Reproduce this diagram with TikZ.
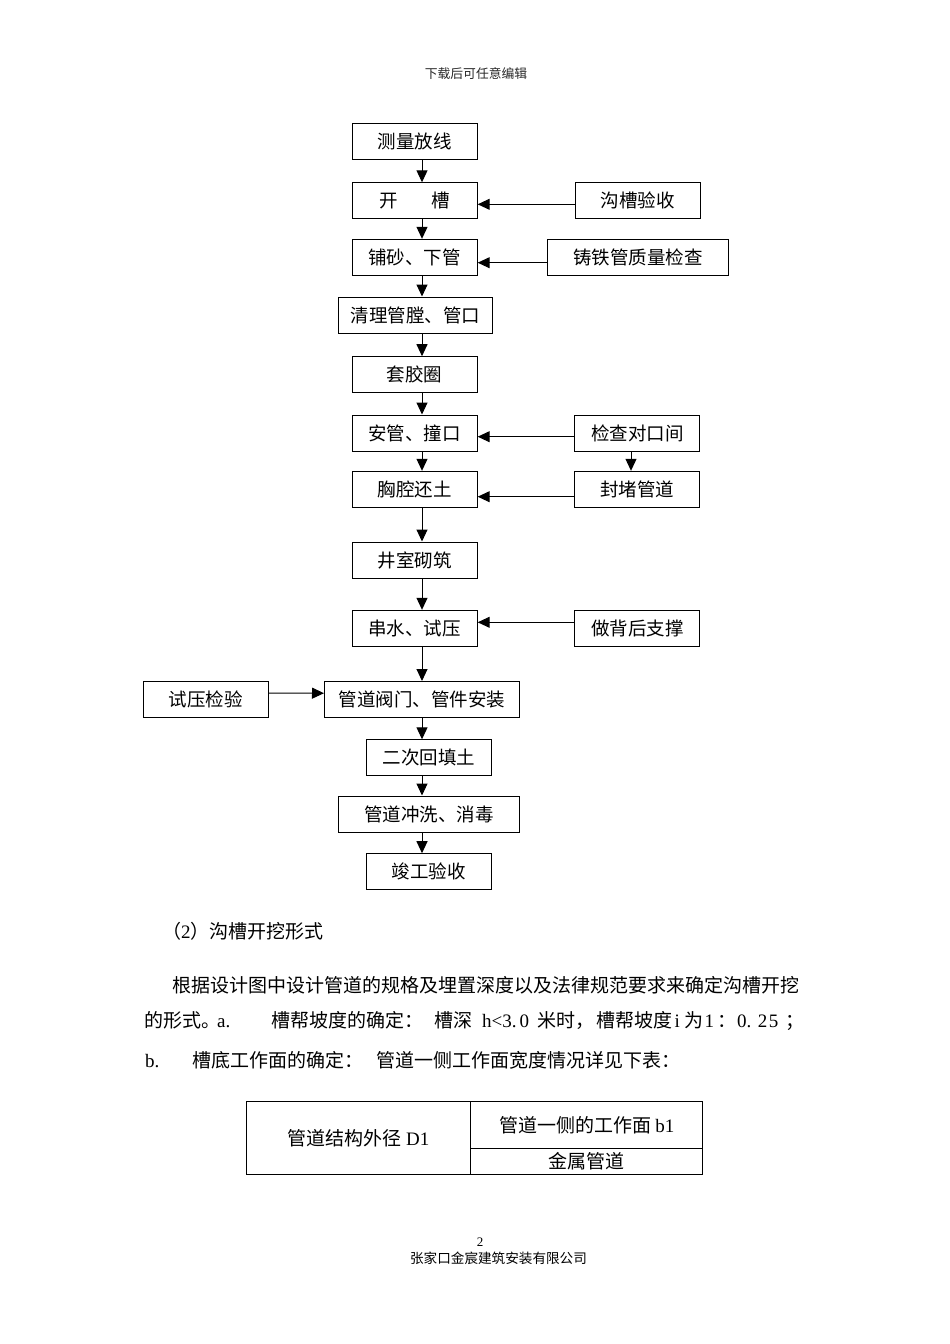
\documentclass[tikz,border=0pt]{standalone}
\usepackage{fontspec}
\setmainfont{Noto Sans CJK SC}
\newfontfamily\latfont{Liberation Serif}
\newcommand\latn[1]{{\latfont #1}}
\usetikzlibrary{arrows.meta}
\tikzset{
    box/.style={draw, line width=1pt, minimum width=125pt, minimum height=36pt,
        inner sep=0pt, font=\fontsize{18.5pt}{20pt}\selectfont}, % preset style for a flow box
    arr/.style={line width=1pt, -{Triangle[length=12pt, width=11pt]}}, % preset style for a flow arrow
    txt/.style={anchor=base west, inner sep=0pt, font=\fontsize{19pt}{20pt}\selectfont}, % preset style for a line of body text
    cell/.style={draw, line width=1pt, inner sep=0pt, font=\fontsize{19pt}{20pt}\selectfont}, % preset style for a table cell
}

\begin{document}
\begin{tikzpicture}[x=1pt, y=-1pt]
    \useasboundingbox (0, 0) rectangle (950, 1344);
    \node[font=\fontsize{12.8pt}{14pt}\selectfont, text=black!85] (hdr) at (476, 74) {下载后可任意编辑};
    % main column
    \node[box] (clfx) at (414.7, 141.3) {测量放线};
    \node[box] (kc) at (414.7, 200.8) {开\hspace{34pt}槽};
    \node[box] (psxg) at (414.7, 257.3) {铺砂、下管};
    \node[box, minimum width=154.4pt] (qlgt) at (415.5, 315) {清理管膛、管口};
    \node[box] (tjq) at (414.7, 374.7) {套胶圈};
    \node[box] (agzk) at (414.7, 433) {安管、撞口};
    \node[box] (xqht) at (414.7, 489.3) {胸腔还土};
    \node[box] (jsqz) at (414.7, 560) {井室砌筑};
    \node[box] (csy) at (414.7, 628.3) {串水、试压};
    \node[box, minimum width=194.8pt] (gdfm) at (421.9, 699.5) {管道阀门、管件安装};
    \node[box] (echt) at (428.8, 757.8) {二次回填土};
    \node[box, minimum width=181pt] (gdcx) at (428.8, 814) {管道冲洗、消毒};
    \node[box] (jgys) at (428.8, 871.7) {竣工验收};
    % side boxes
    \node[box] (gcys) at (637.6, 200.8) {沟槽验收};
    \node[box, minimum width=181pt] (ztg) at (637.8, 257.3) {铸铁管质量检查};
    \node[box] (jcdk) at (637.4, 433) {检查对口间};
    \node[box] (fdgd) at (637.4, 489.3) {封堵管道};
    \node[box] (zbzc) at (637.4, 628.3) {做背后支撑};
    \node[box] (syjy) at (205.8, 699.3) {试压检验};
    \coordinate (spine) at (422, 0);
    \coordinate (side) at (631, 0);
    \draw[arr] (clfx.south -| spine) -- (kc.north -| spine);
    \draw[arr] (kc.south -| spine) -- (psxg.north -| spine);
    \draw[arr] (psxg.south -| spine) -- (qlgt.north -| spine);
    \draw[arr] (qlgt.south -| spine) -- (tjq.north -| spine);
    \draw[arr] (tjq.south -| spine) -- (agzk.north -| spine);
    \draw[arr] (agzk.south -| spine) -- (xqht.north -| spine);
    \draw[arr] (xqht.south -| spine) -- (jsqz.north -| spine);
    \draw[arr] (jsqz.south -| spine) -- (csy.north -| spine);
    \draw[arr] (csy.south -| spine) -- (gdfm.north -| spine);
    \draw[arr] (gdfm.south -| spine) -- (echt.north -| spine);
    \draw[arr] (echt.south -| spine) -- (gdcx.north -| spine);
    \draw[arr] (gdcx.south -| spine) -- (jgys.north -| spine);
    \draw[arr] ([yshift=-3.5pt]gcys.west) -- ([yshift=-3.5pt]kc.east);
    \draw[arr] ([yshift=-5.4pt]ztg.west) -- ([yshift=-5.4pt]psxg.east);
    \draw[arr] ([yshift=-3.7pt]jcdk.west) -- ([yshift=-3.7pt]agzk.east);
    \draw[arr] (jcdk.south -| side) -- (fdgd.north -| side);
    \draw[arr] ([yshift=-7.4pt]fdgd.west) -- ([yshift=-7.4pt]xqht.east);
    \draw[arr] ([yshift=6pt]zbzc.west) -- ([yshift=6pt]csy.east);
    \draw[arr] ([yshift=6.3pt]syjy.east) -- ([yshift=6.3pt]gdfm.west);
    % body text
    \node[txt] (hd) at (162, 938.9) {（\latn{2}）沟槽开挖形式};
    \node[txt] (la) at (172.5, 992.7) {根据设计图中设计管道的规格及埋置深度以及法律规范要求来确定沟槽开挖};
    \node[txt] (lb1) at (144, 1027.7) {的形式。};
    \node[txt] (lb2) at (217, 1027.7) {\latn{a.}};
    \node[txt] (lb3) at (271, 1027.7) {槽帮坡度的确定：};
    \node[txt] (lb4) at (434, 1027.7) {槽深};
    \node[txt] (lb5) at (482, 1027.7) {\latn{h<3.\hspace{3pt}0}};
    \node[txt] (lb6) at (537, 1027.7) {米时，};
    \node[txt] (lb7) at (596, 1027.7) {槽帮坡度};
    \node[txt] (lb8) at (674.5, 1027.7) {\latn{i}};
    \node[txt] (lb9) at (684, 1027.7) {为};
    \node[txt] (lb10) at (704.5, 1027.7) {\latn{1}\hspace{3pt}：};
    \node[txt] (lb11) at (737, 1027.7) {\latn{0.\hspace{6.5pt}2\hspace{1.5pt}5}\hspace{7.5pt}；};
    \node[txt] (lc1) at (145, 1067.2) {\latn{b.}};
    \node[txt] (lc2) at (192.5, 1067.2) {槽底工作面的确定：};
    \node[txt] (lc3) at (376, 1067.2) {管道一侧工作面宽度情况详见下表：};
    % table
    \node[cell, minimum width=224pt, minimum height=72.6pt] (tc1) at (358.7, 1138) {管道结构外径 \latn{D1}};
    \node[cell, minimum width=232pt, minimum height=46.6pt] (tc2) at (586.7, 1125) {管道一侧的工作面 \latn{b1}};
    \node[cell, minimum width=232pt, minimum height=26pt] (tc3) at (586.7, 1161.3) {金属管道};
    % footer
    \node[font=\fontsize{13pt}{14pt}\selectfont] (pgno) at (480, 1241.7) {\latn{2}};
    \node[font=\fontsize{13.6pt}{15pt}\selectfont] (corp) at (498.5, 1258.3) {张家口金宸建筑安装有限公司};
\end{tikzpicture}
\end{document}
